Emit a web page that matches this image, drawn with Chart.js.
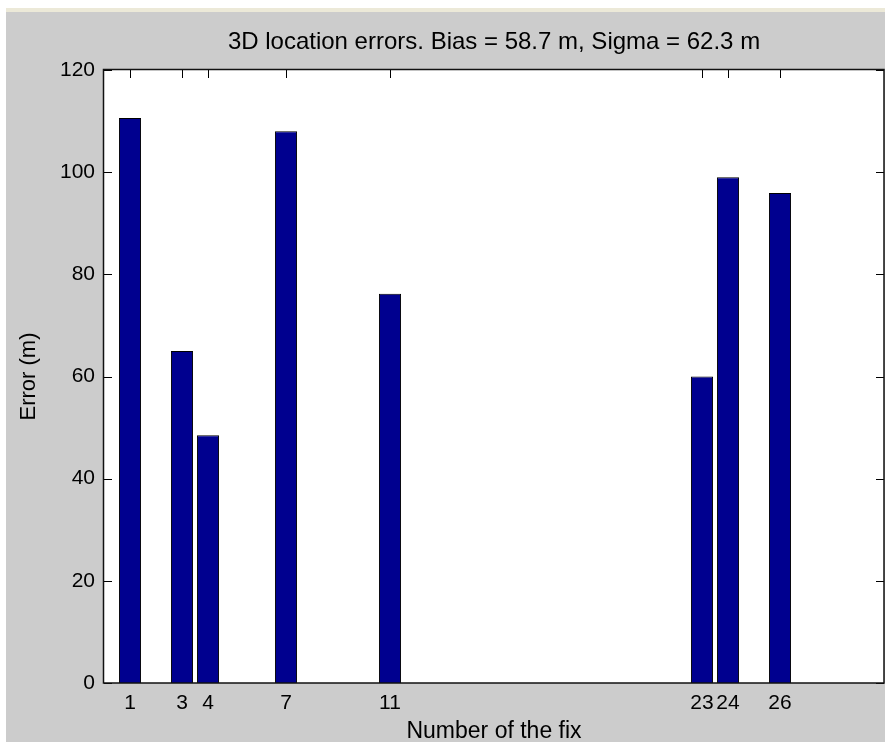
<!DOCTYPE html>
<html>
<head>
<meta charset="utf-8">
<script src="https://cdn.jsdelivr.net/npm/chart.js@4/dist/chart.umd.min.js"></script>
<style>
  html, body { margin: 0; padding: 0; background: #cccccc; }
  #wrap { width: 885px; height: 742px; }
</style>
</head>
<body>
<div id="wrap"><canvas id="c" width="885" height="742"></canvas></div>
<script>
// ---- data ----
const fixNumbers = [1, 3, 4, 7, 11, 23, 24, 26];
const errors = [110.6, 65.0, 48.5, 108.0, 76.2, 60.0, 99.0, 95.9];
const yTickValues = [0, 20, 40, 60, 80, 100, 120];
const chartTitle = '3D location errors. Bias = 58.7 m, Sigma = 62.3 m';
const xTitle = 'Number of the fix';
const yTitle = 'Error (m)';

const FONT = '"Liberation Sans", Arial, sans-serif';

const framePlugin = {
  id: 'matlabFrame',
  beforeDraw(chart) {
    const {ctx, width, height, chartArea: a} = chart;
    ctx.save();
    ctx.fillStyle = '#cccccc';
    ctx.fillRect(0, 0, width, height);
    ctx.fillStyle = '#ffffff';
    ctx.fillRect(0, 0, width, 8);
    ctx.fillRect(0, 0, 6, height);
    ctx.fillStyle = '#ece9d8';
    ctx.fillRect(6, 8, width - 6, 4);
    ctx.fillStyle = '#ffffff';
    ctx.fillRect(a.left, a.top, a.right - a.left, a.bottom - a.top);
    ctx.restore();
  },
  beforeDatasetsDraw(chart) {
    const {ctx, chartArea: a, scales} = chart;
    const len = 8;
    ctx.save();
    ctx.strokeStyle = '#000';
    ctx.lineWidth = 1;
    ctx.beginPath();
    scales.y.ticks.forEach(t => {
      const py = Math.round(scales.y.getPixelForValue(t.value)) + 0.5;
      ctx.moveTo(a.left, py); ctx.lineTo(a.left + len, py);
      ctx.moveTo(a.right, py); ctx.lineTo(a.right - len, py);
    });
    scales.x.ticks.forEach(t => {
      const px = Math.round(scales.x.getPixelForValue(t.value)) + 0.5;
      ctx.moveTo(px, a.top); ctx.lineTo(px, a.top + len);
      ctx.moveTo(px, a.bottom); ctx.lineTo(px, a.bottom - len);
    });
    ctx.stroke();
    ctx.restore();
  },
  afterDatasetsDraw(chart) {
    const {ctx, chartArea: a} = chart;
    ctx.save();
    ctx.strokeStyle = '#111';
    ctx.lineWidth = 1.5;
    ctx.strokeRect(a.left - 0.5, a.top - 0.5, a.right - a.left + 0.5, a.bottom - a.top + 0.5);
    ctx.restore();
  }
};

new Chart(document.getElementById('c'), {
  type: 'bar',
  data: {
    datasets: [{
      data: fixNumbers.map((x, i) => ({x: x, y: errors[i]})),
      backgroundColor: '#00008f',
      borderColor: '#000000',
      borderWidth: 1,
      borderSkipped: 'start',
      barPercentage: 0.85,
      categoryPercentage: 1.0
    }]
  },
  options: {
    responsive: false,
    animation: false,
    devicePixelRatio: 1,
    layout: { padding: { left: 0, right: 1, top: 0, bottom: 0 } },
    plugins: {
      legend: { display: false },
      tooltip: { enabled: false },
      title: {
        display: true,
        text: chartTitle,
        fullSize: false,
        color: '#000',
        font: { family: FONT, size: 24, weight: 'normal', lineHeight: 1.2 },
        padding: { top: 27.6, bottom: 13.6 }
      }
    },
    scales: {
      x: {
        type: 'linear',
        min: 0,
        max: 30,
        offset: false,
        grid: { display: false, drawTicks: false, offset: false },
        border: { display: false },
        afterBuildTicks: (scale) => { scale.ticks = fixNumbers.map(v => ({value: v})); },
        afterFit: (scale) => { scale.height = 59; },
        ticks: {
          autoSkip: false,
          maxRotation: 0,
          minRotation: 0,
          padding: 8,
          color: '#000',
          font: { family: FONT, size: 21 },
          callback: (v) => String(v)
        },
        title: {
          display: true,
          text: xTitle,
          color: '#000',
          font: { family: FONT, size: 23, lineHeight: 0.9 },
          padding: { top: 0, bottom: 0 }
        }
      },
      y: {
        min: 0,
        max: 120,
        grid: { display: false, drawTicks: false },
        border: { display: false },
        afterBuildTicks: (scale) => { scale.ticks = yTickValues.map(v => ({value: v})); },
        afterFit: (scale) => { scale.width = 104; },
        ticks: {
          padding: 9,
          color: '#000',
          font: { family: FONT, size: 21 },
          callback: (v) => String(v)
        },
        title: {
          display: true,
          text: yTitle,
          color: '#000',
          font: { family: FONT, size: 22, lineHeight: 1.2 },
          padding: { top: 16, bottom: 0 }
        }
      }
    }
  },
  plugins: [framePlugin]
});
</script>
</body>
</html>
